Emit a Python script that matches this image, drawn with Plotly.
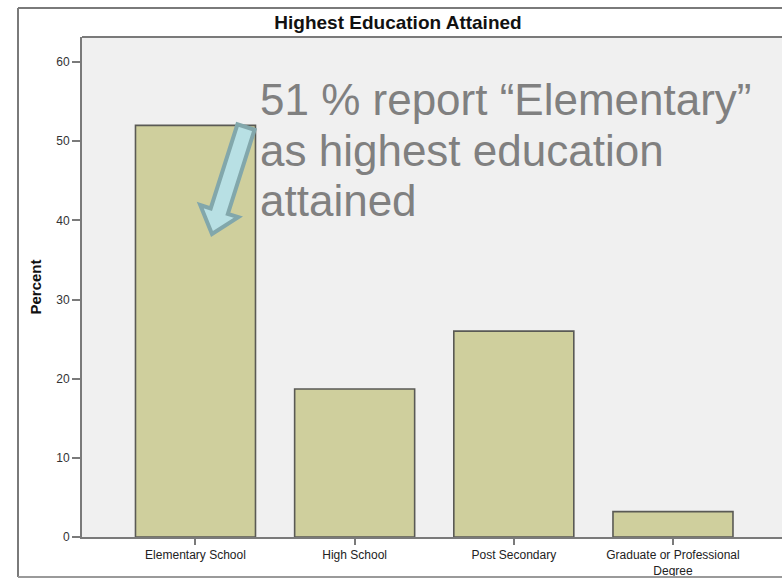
import numpy as np
import plotly.graph_objects as go

categories = ["Elementary School", "High School", "Post Secondary", "Graduate or Professional<br>Degree"]
percent = [52.0, 18.7, 26.0, 3.2]
y_ticks = [0, 10, 20, 30, 40, 50, 60]
title_text = "Highest Education Attained"
note_lines = ["51 % report “Elementary”", "as highest education", "attained"]

W, H = 782, 579
L, R, T, B = 82, 0, 37, 42
PW, PH = W - L - R, H - T - B


def px(x):
    return (x - L) / PW


def py(y):
    return (H - B - y) / PH


fig = go.Figure()
fig.add_trace(go.Bar(
    x=list(range(len(categories))), y=percent,
    width=0.754,
    marker=dict(color="#cfcf9d", line=dict(color="#5a5a55", width=1.6)),
    hoverinfo="skip",
))

# block arrow (decoration) in pixel space
S = np.array([246.0, 127.0])
Tp = np.array([212.0, 234.0])
d = (Tp - S) / np.linalg.norm(Tp - S)
n = np.array([d[1], -d[0]])
hw, hh, hl = 9.0, 20.0, 24.0
Bc = Tp - d * hl
pts = [S - n * hw, Bc - n * hw, Bc - n * hh, Tp, Bc + n * hh, Bc + n * hw, S + n * hw]
path = "M " + " L ".join(f"{px(p[0]):.5f},{py(p[1]):.5f}" for p in pts) + " Z"

shapes = [
    # outer frame
    dict(type="line", xref="paper", yref="paper", x0=px(18), x1=px(790), y0=py(8), y1=py(8),
         line=dict(color="#7a7a7a", width=2)),
    dict(type="line", xref="paper", yref="paper", x0=px(18), x1=px(18), y0=py(8), y1=py(577),
         line=dict(color="#7a7a7a", width=2)),
    dict(type="line", xref="paper", yref="paper", x0=px(18), x1=px(790), y0=py(577), y1=py(577),
         line=dict(color="#9a9a9a", width=2)),
    # inner top border
    dict(type="line", xref="paper", yref="paper", x0=0, x1=1.02, y0=1, y1=1,
         line=dict(color="#7a7a7a", width=2)),
    dict(type="path", xref="paper", yref="paper", path=path,
         fillcolor="#b8e0e4", line=dict(color="#82a7ab", width=4)),
]

note_centers = [99, 150, 201]
annotations = [
    dict(xref="paper", yref="paper", x=px(258), y=py(cy), xanchor="left", yanchor="middle",
         text=t, showarrow=False, align="left",
         font=dict(size=44, color="#808080", family="Arial, Liberation Sans, sans-serif"))
    for t, cy in zip(note_lines, note_centers)
]

fig.update_layout(
    width=W, height=H,
    margin=dict(l=L, r=R, t=T, b=B, pad=0),
    paper_bgcolor="#ffffff",
    plot_bgcolor="#f0f0f0",
    showlegend=False,
    font=dict(family="Arial, Liberation Sans, sans-serif", color="#222222"),
    title=dict(text=f"<b>{title_text}</b>", xref="container", x=398 / W, xanchor="center",
               yref="container", y=1 - 22 / H, yanchor="middle",
               font=dict(size=19, color="#111111")),
    xaxis=dict(
        range=[-0.713, 3.685], tickmode="array", tickvals=list(range(len(categories))),
        ticktext=categories, showgrid=False, zeroline=False, showline=True,
        linecolor="#7a7a7a", linewidth=2, ticks="outside", ticklen=6, tickcolor="#7a7a7a",
        tickwidth=1.5, tickfont=dict(size=12, color="#222222"),
    ),
    yaxis=dict(
        range=[0, 63.16], tickmode="array", tickvals=y_ticks, showgrid=False, zeroline=False,
        showline=True, linecolor="#7a7a7a", linewidth=2, ticks="outside", ticklen=8,
        tickcolor="#7a7a7a", tickwidth=1.5, tickfont=dict(size=12, color="#333333"),
        title=dict(text="<b>Percent</b>", font=dict(size=15, color="#111111"), standoff=11),
    ),
    shapes=shapes,
    annotations=annotations,
)

fig.write_html("out.html")
